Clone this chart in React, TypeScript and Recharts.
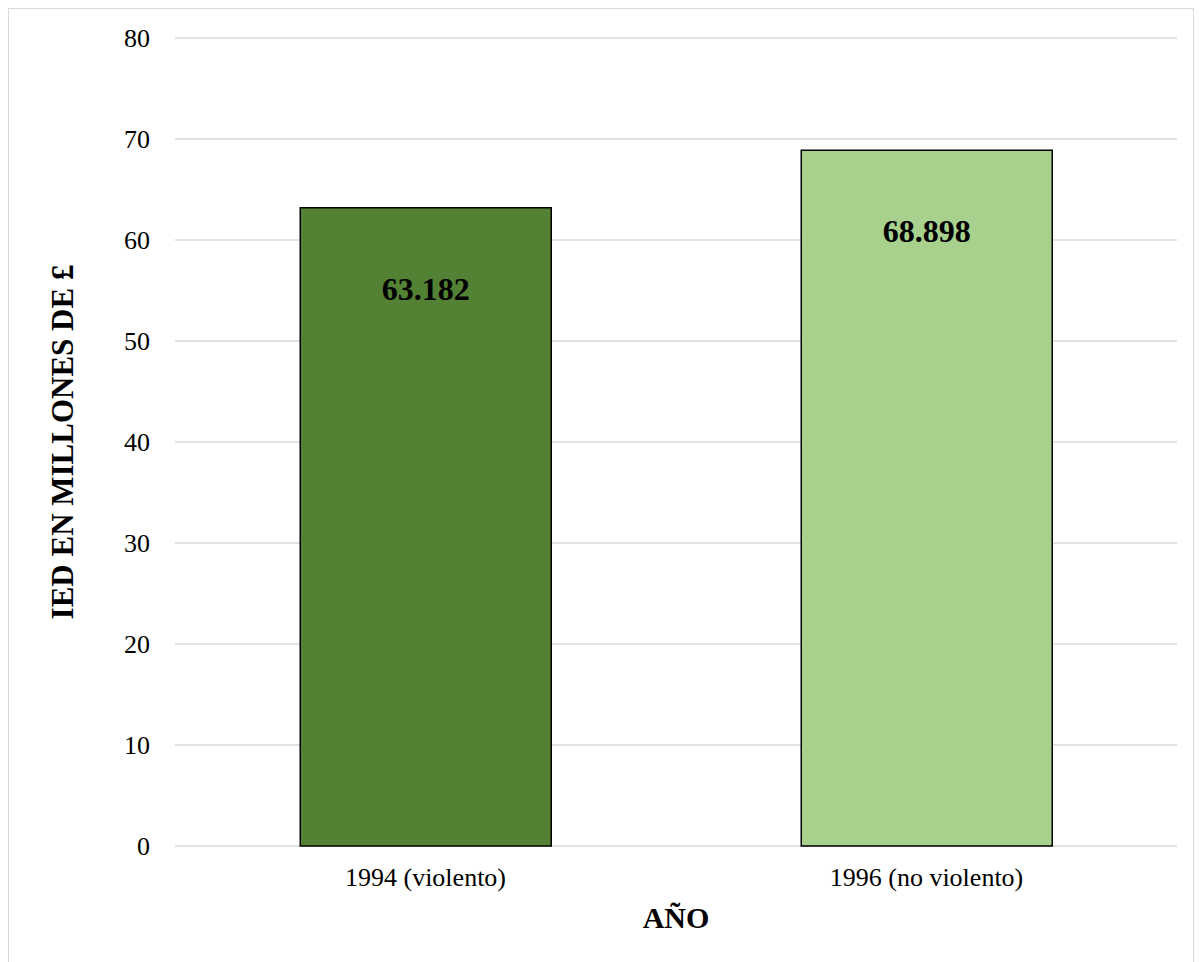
import { BarChart, Bar, XAxis, YAxis, CartesianGrid, Cell, LabelList, Label } from "recharts";

const CATEGORIES = ["1994 (violento)", "1996 (no violento)"];
const IED_VALUES = [63.182, 68.898];
const BAR_COLORS = ["#548235", "#A9D18E"];
const Y_TICKS = [0, 10, 20, 30, 40, 50, 60, 70, 80];

const FONT = "'Liberation Serif', 'Times New Roman', serif";

const data = CATEGORIES.map((name, i) => ({ name, value: IED_VALUES[i] }));

export default function App() {
  return (
    <div
      style={{
        width: 1184,
        height: 960,
        border: "1px solid #d9d9d9",
        background: "#fff",
        fontFamily: FONT,
      }}
    >
      <BarChart
        width={1184}
        height={960}
        data={data}
        margin={{ top: 29, right: 16, bottom: 0, left: 0 }}
        barCategoryGap="25%"
      >
        <CartesianGrid vertical={false} stroke="#d9d9d9" strokeWidth={1.5} />
        <XAxis
          dataKey="name"
          height={123}
          axisLine={false}
          tickLine={false}
          tickSize={0}
          tickMargin={22}
          tick={{ fill: "#000", fontSize: 26, fontFamily: FONT }}
        >
          <Label
            value="AÑO"
            position="center"
            dy={10}
            style={{ fill: "#000", fontSize: 30, fontWeight: "bold", fontFamily: FONT }}
          />
        </XAxis>
        <YAxis
          width={166}
          domain={[0, 80]}
          ticks={Y_TICKS}
          axisLine={false}
          tickLine={false}
          tickSize={0}
          tickMargin={25}
          tick={{ fill: "#000", fontSize: 26, fontFamily: FONT }}
        >
          <Label
            value="IED EN MILLONES DE £"
            angle={-90}
            position="center"
            dx={-30}
            style={{ fill: "#000", fontSize: 31, fontWeight: "bold", fontFamily: FONT }}
          />
        </YAxis>
        <Bar dataKey="value" stroke="#000" strokeWidth={1.5} isAnimationActive={false}>
          {data.map((d, i) => (
            <Cell key={d.name} fill={BAR_COLORS[i % BAR_COLORS.length]} />
          ))}
          <LabelList
            dataKey="value"
            position="insideTop"
            offset={69}
            formatter={(v: any) => Number(v).toFixed(3)}
            style={{ fill: "#000", fontSize: 32, fontWeight: "bold", fontFamily: FONT }}
          />
        </Bar>
      </BarChart>
    </div>
  );
}
